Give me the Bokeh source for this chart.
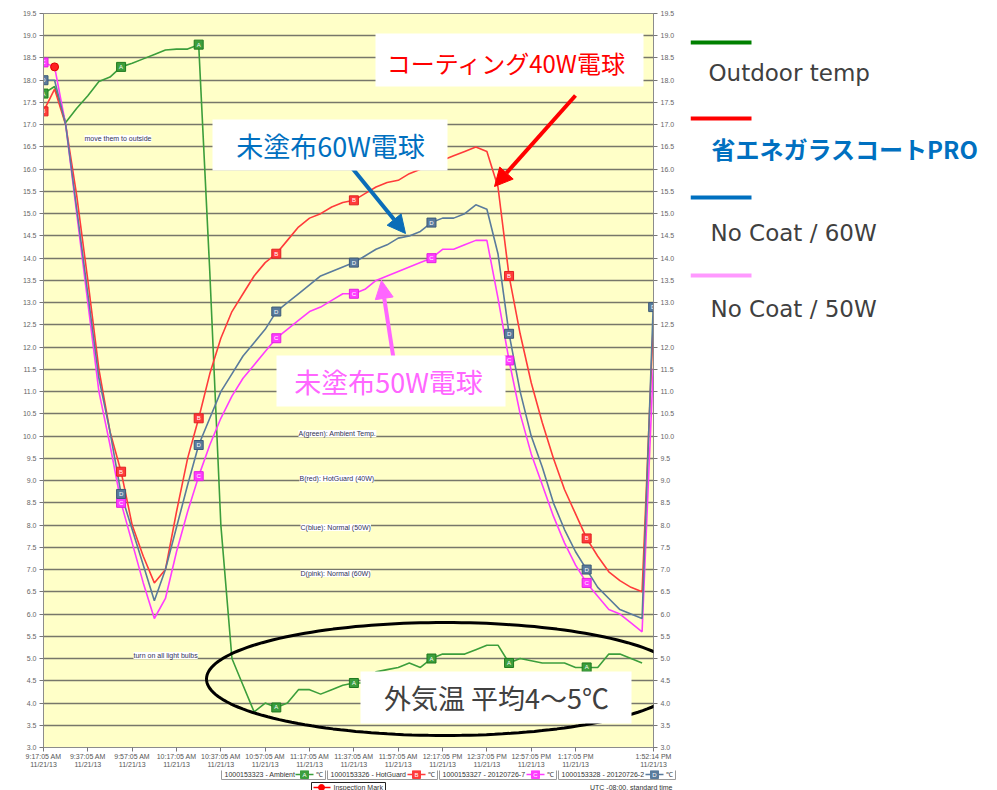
import numpy as np
from bokeh.plotting import figure
from bokeh.layouts import row, column
from bokeh.models import (Range1d, FixedTicker, LinearAxis, Label, BoxAnnotation,
                          PolyAnnotation, Arrow, NormalHead, PrintfTickFormatter)
from bokeh.core.properties import value
from bokeh.embed import file_html
from bokeh.resources import INLINE

# ---------------- data ----------------
minutes = [0, 5, 10, 15, 20, 25, 30, 35, 40, 45, 50, 55, 60, 65, 70, 75, 80, 85, 90, 95,
           100, 105, 110, 115, 120, 125, 130, 135, 140, 145, 150, 155, 160, 165, 170, 175,
           180, 185, 190, 195, 200, 205, 210, 215, 220, 225, 230, 235, 240, 245, 250, 255,
           260, 265, 270, 275]

ambient = [17.7, 17.86, 17.05, 17.37, 17.65, 17.97, 18.07, 18.3, 18.38, 18.48, 18.58, 18.68,
           18.7, 18.7, 18.8, 13.7, 8.0, 5.0, 4.4, 3.8, 4.0, 3.9, 4.0, 4.3, 4.3, 4.2, 4.3, 4.4,
           4.45, 4.45, 4.7, 4.75, 4.8, 4.9, 4.8, 5.0, 5.1, 5.1, 5.1, 5.2, 5.3, 5.3, 4.9, 5.0,
           4.95, 4.9, 4.9, 4.9, 4.8, 4.8, 4.8, 5.1, 5.1, 5.0, 4.9, float("nan")]

hotguard_40w = [17.3, 17.8, 17.0, 15.4, 13.5, 11.5, 10.1, 9.2, 8.0, 7.3, 6.7, 7.0, 8.3, 9.5,
                10.4, 11.4, 12.2, 12.8, 13.2, 13.6, 13.9, 14.1, 14.4, 14.7, 14.9, 15.0, 15.15,
                15.25, 15.3, 15.45, 15.6, 15.7, 15.75, 15.9, 16.0, 16.1, 16.2, 16.3, 16.4, 16.5,
                16.4, 15.6, 13.6, 12.3, 11.2, 10.3, 9.5, 8.8, 8.25, 7.7, 7.3, 6.95, 6.75, 6.6,
                6.5, 12.5]

normal_50w = [18.4, 18.3, 17.0, 15.0, 13.0, 11.0, 9.8, 8.5, 7.6, 6.7, 5.9, 6.35, 7.4, 8.3,
              9.1, 9.8, 10.4, 10.9, 11.3, 11.6, 11.9, 12.2, 12.4, 12.6, 12.8, 12.9, 13.05,
              13.2, 13.2, 13.3, 13.5, 13.6, 13.7, 13.8, 13.9, 14.0, 14.2, 14.2, 14.3, 14.4,
              14.4, 13.1, 11.7, 10.5, 9.6, 8.9, 8.2, 7.6, 7.1, 6.7, 6.4, 6.1, 6.0, 5.8, 5.6,
              11.5]

normal_60w = [18.0, 18.0, 17.0, 15.1, 13.2, 11.3, 10.1, 8.7, 7.9, 7.1, 6.3, 7.0, 7.95, 8.9,
              9.8, 10.4, 11.0, 11.4, 11.8, 12.1, 12.4, 12.8, 13.0, 13.2, 13.4, 13.6, 13.7,
              13.8, 13.9, 14.05, 14.2, 14.3, 14.45, 14.5, 14.6, 14.8, 14.9, 14.9, 15.0, 15.2,
              15.1, 14.1, 12.3, 11.0, 10.0, 9.3, 8.5, 7.9, 7.4, 7.0, 6.6, 6.35, 6.1, 6.0, 5.9,
              12.9]

marker_idx = [0, 7, 14, 21, 28, 35, 42, 49]
marker_idx_blue = [0, 7, 14, 21, 28, 35, 42, 49, 55]

inspection_minutes = [5]
inspection_temp = [18.3]

tick_minutes = [0, 20, 40, 60, 80, 100, 120, 140, 160, 180, 200, 220, 240, 275.15]
tick_times = ["9:17:05 AM", "9:37:05 AM", "9:57:05 AM", "10:17:05 AM", "10:37:05 AM",
              "10:57:05 AM", "11:17:05 AM", "11:37:05 AM", "11:57:05 AM", "12:17:05 PM",
              "12:37:05 PM", "12:57:05 PM", "1:17:05 PM", "1:52:14 PM"]
tick_date = "11/21/13"
y_ticks = [3.0 + 0.5 * k for k in range(34)]

legend_names = ["Outdoor temp", "省エネガラスコートPRO", "No Coat / 60W", "No Coat / 50W"]
legend_line_colors = ["#008000", "#ff0000", "#0070c0", "#ff99ff"]
channel_names = ["1000153323 - Ambient", "1000153326 - HotGuard",
                 "1000153327 - 20120726-7", "1000153328 - 20120726-2"]

# ---------------- layout constants (page pixels) ----------------
MAIN_W, MAIN_H = 690, 770
FL, FT, FR, FB = 43, 13, 653, 747   # plot frame
X0, X1 = 0.0, 275.15
Y0, Y1 = 3.0, 19.5


def dx(px):
    return X0 + (px - FL) * (X1 - X0) / (FR - FL)


def dy(py):
    return Y0 + (FB - py) * (Y1 - Y0) / (FB - FT)


p = figure(width=MAIN_W, height=MAIN_H, x_range=Range1d(X0, X1), y_range=Range1d(Y0, Y1),
           output_backend="svg", toolbar_location=None, tools="", title=None,
           min_border_left=FL, min_border_top=FT,
           min_border_right=MAIN_W - FR, min_border_bottom=MAIN_H - FB,
           background_fill_color="#ffffc8", border_fill_color="white")
p.outline_line_color = "#8c8c8c"

small_font = "Liberation Sans"
yticker = FixedTicker(ticks=y_ticks)
p.yaxis[0].ticker = yticker
p.yaxis[0].formatter = PrintfTickFormatter(format="%.1f")
right_axis = LinearAxis(ticker=yticker, formatter=PrintfTickFormatter(format="%.1f"))
p.add_layout(right_axis, "right")
for ax in (p.yaxis[0], right_axis):
    ax.major_tick_out = 4
    ax.major_tick_in = 0
    ax.minor_tick_out = 0
    ax.minor_tick_in = 0
    ax.major_label_standoff = 3
    ax.major_label_text_font = small_font
    ax.major_label_text_font_size = "7px"
    ax.major_label_text_color = "#666666"
    ax.axis_line_color = "#8c8c8c"
    ax.major_tick_line_color = "#777777"

xa = p.xaxis[0]
xa.ticker = FixedTicker(ticks=tick_minutes)
xa.major_label_overrides = {m: f"{t}\n{tick_date}" for m, t in zip(tick_minutes, tick_times)}
xa.major_tick_out = 4
xa.major_tick_in = 0
xa.minor_tick_out = 0
xa.minor_tick_in = 0
xa.major_label_standoff = 1
xa.major_label_text_font = small_font
xa.major_label_text_font_size = "7px"
xa.major_label_text_color = "#555555"
xa.axis_line_color = "#8c8c8c"
xa.major_tick_line_color = "#777777"

p.xgrid.visible = False
p.ygrid.ticker = yticker
p.ygrid.grid_line_color = "#77776a"
p.ygrid.grid_line_width = 1.5

# ---------------- series ----------------
c_green, c_red, c_pink, c_blue = "#3c9e3c", "#ff3b3b", "#ff3cff", "#5a7b9c"
series = [
    (ambient, c_green, "#1e7a1e", "A", marker_idx),
    (hotguard_40w, c_red, "#e02020", "B", marker_idx),
    (normal_50w, c_pink, "#e020e0", "C", marker_idx),
    (normal_60w, c_blue, "#3d5a78", "D", marker_idx_blue),
]
for vals, col, dark, letter, idx in series:
    p.line(minutes, vals, line_color=col, line_width=1.6)
for vals, col, dark, letter, idx in series:
    mx = [minutes[i] for i in idx]
    my = [vals[i] for i in idx]
    p.scatter(mx, my, marker="square", size=9, fill_color=col, line_color=dark)
    p.text(mx, my, text=[letter] * len(mx), text_font=value(small_font),
           text_font_size="6px", text_color="white", text_align="center",
           text_baseline="middle")

p.scatter(inspection_minutes, inspection_temp, marker="circle", size=8,
          fill_color="#ff2020", line_color="#dd0000")

# ---------------- small chart notes ----------------
notes = [("move them to outside", 84, 138), ("turn on all light bulbs", 133, 655),
         ("A(green): Ambient Temp.", 298, 433), ("B(red): HotGuard (40W)", 299, 478),
         ("C(blue): Normal (50W)", 300, 527), ("D(pink): Normal (60W)", 300, 573)]
for txt, px, py in notes:
    p.add_layout(Label(x=dx(px), y=dy(py), text=txt, text_font=small_font,
                       text_font_size="7px", text_color="#333355", text_align="left",
                       text_baseline="middle", background_fill_color="white"))

# ---------------- ellipse ----------------
th = np.linspace(0, 2 * np.pi, 181)
ecx, ecy, erx, ery = 444.5, 678.5, 238.5, 56.5
p.add_layout(PolyAnnotation(xs=[dx(ecx + erx * np.cos(t)) for t in th],
                            ys=[dy(ecy + ery * np.sin(t)) for t in th],
                            fill_color=None, fill_alpha=0, line_color="black",
                            line_alpha=1.0, line_width=3))

# ---------------- callouts ----------------
jp = "Noto Sans CJK JP"
boxes = [(375, 643, 33, 86), (212, 447, 119, 170), (276, 505, 355, 406), (360, 631, 671, 723)]
arrows = [((575, 95), (494, 186), "#ff0000"), ((352, 168), (405, 233), "#0b6db8"),
          ((393, 358), (381, 280), "#ff66ff")]
for (sx, sy), (ex, ey), col in arrows:
    p.add_layout(Arrow(end=NormalHead(size=18, fill_color=col, line_color=col),
                       x_start=dx(sx), y_start=dy(sy), x_end=dx(ex), y_end=dy(ey),
                       line_color=col, line_width=4))
for l, r, t, bt in boxes:
    p.add_layout(BoxAnnotation(left=dx(l), right=dx(r), top=dy(t), bottom=dy(bt),
                               fill_color="white", fill_alpha=1.0, line_color=None))
callouts = [("コーティング40W電球", 506, 62, "#ff0000", "24px"),
            ("未塗布60W電球", 330, 145, "#0070c0", "27px"),
            ("未塗布50W電球", 388, 381, "#ff66ff", "27px"),
            ("外気温 平均4～5℃", 496, 697, "#404040", "27px")]
for txt, px, py, col, fs in callouts:
    p.add_layout(Label(x=dx(px), y=dy(py), text=txt, text_font=jp, text_font_size=fs,
                       text_color=col, text_align="center", text_baseline="middle"))


def blank_panel(w, h, xr, yr):
    f = figure(width=w, height=h, x_range=Range1d(*xr), y_range=Range1d(*yr),
               output_backend="svg", toolbar_location=None, tools="", title=None,
               x_axis_location=None, y_axis_location=None,
               min_border=0, min_border_left=0, min_border_right=0,
               min_border_top=0, min_border_bottom=0,
               background_fill_color="white", border_fill_color="white")
    f.outline_line_color = None
    f.xgrid.visible = False
    f.ygrid.visible = False
    return f


# ---------------- right legend (separate panel; its frame is aligned with the chart frame) ----
q = blank_panel(997 - MAIN_W, MAIN_H, (MAIN_W, 997), (FB, FT))
leg_line_y = [42, 118, 197, 275]
leg_text_x = [708, 711, 710, 710]
leg_text_y = [72, 148, 232, 308]
q.segment(x0=[690] * 4, x1=[751] * 4, y0=leg_line_y, y1=leg_line_y,
          line_color=legend_line_colors, line_width=4)
for i, name in enumerate(legend_names):
    bold = (i == 1)
    q.text([leg_text_x[i]], [leg_text_y[i]], text=[name],
           text_font=value(jp if bold else "DejaVu Sans"),
           text_font_size="24px" if bold else "23px",
           text_font_style="bold" if bold else "normal",
           text_color="#0070c0" if bold else "#404040",
           text_align="left", text_baseline="alphabetic")

# ---------------- bottom legend strip (page pixel coords) ----------------
b = blank_panel(997, 790 - MAIN_H, (0, 997), (790, MAIN_H))
box_l = [221, 327, 439, 558]
box_r = [325, 437, 556, 675]
row_top, row_bot = 769, 779
row_mid = (row_top + row_bot) / 2
series_cols = [c_green, c_red, c_pink, c_blue]
letters = ["A", "B", "C", "D"]
b.quad(left=box_l, right=box_r, top=[row_top] * 4, bottom=[row_bot] * 4,
       fill_color="white", line_color="#9a9a9a", line_width=1)
b.text([l + 3 for l in box_l], [row_mid] * 4, text=channel_names, text_font=value(small_font),
       text_font_size="7px", text_color="#333333", text_align="left", text_baseline="middle")
b.segment(x0=[r - 30 for r in box_r], x1=[r - 12 for r in box_r], y0=[row_mid] * 4,
          y1=[row_mid] * 4, line_color=series_cols, line_width=1.5)
b.scatter([r - 21 for r in box_r], [row_mid] * 4, marker="square", size=8,
          fill_color=series_cols, line_color=series_cols)
b.text([r - 21 for r in box_r], [row_mid] * 4, text=letters, text_font=value(small_font),
       text_font_size="6px", text_color="white", text_align="center", text_baseline="middle")
b.text([r - 3 for r in box_r], [row_mid] * 4, text=["℃"] * 4, text_font=value(small_font),
       text_font_size="7px", text_color="#333333", text_align="right", text_baseline="middle")
b.quad(left=[311], right=[385], top=[782], bottom=[795], fill_color="white",
       line_color="#222222", line_width=1)
b.segment(x0=[313], x1=[330], y0=[787], y1=[787], line_color="#ff0000", line_width=1.5)
b.scatter([321], [787], marker="circle", size=6, fill_color="#ff0000", line_color="#ff0000")
b.text([333], [787], text=["Inspection Mark"], text_font=value(small_font),
       text_font_size="7px", text_color="#333333", text_align="left", text_baseline="middle")
b.text([672], [787], text=["UTC -08:00, standard time"], text_font=value(small_font),
       text_font_size="7px", text_color="#333333", text_align="right", text_baseline="middle")

layout = column(row(p, q), b)
open("out.html", "w").write(file_html(layout, INLINE))
